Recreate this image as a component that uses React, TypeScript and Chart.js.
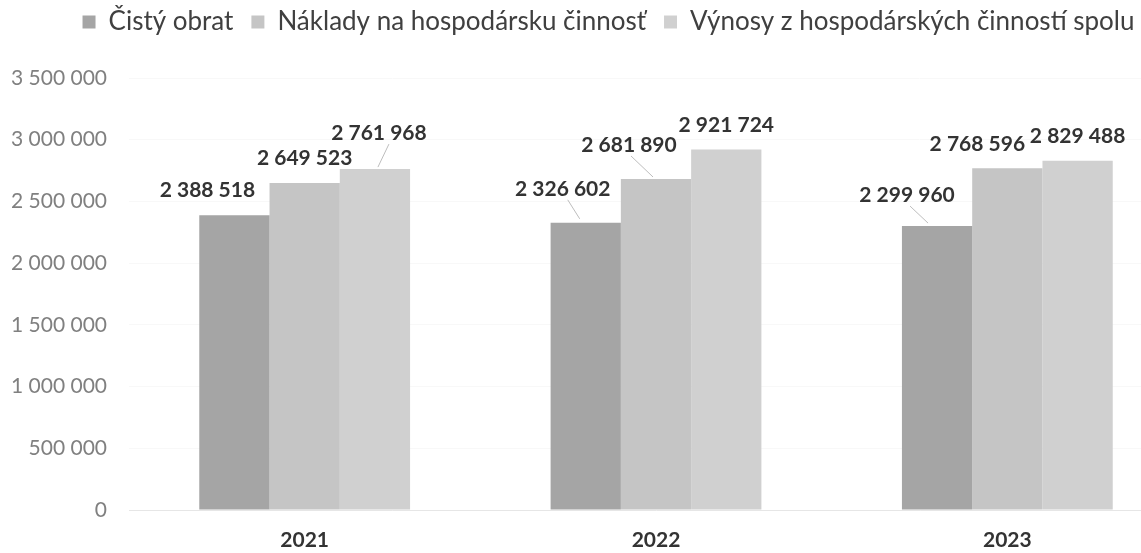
import React, { useEffect, useRef } from "react";
import { Chart, registerables } from "chart.js";

Chart.register(...registerables);

const categories = ["2021", "2022", "2023"];
const seriesNames = [
  "Čistý obrat",
  "Náklady na hospodársku činnosť",
  "Výnosy z hospodárských činností spolu",
];
const cistyObrat = [2388518, 2326602, 2299960];
const naklady = [2649523, 2681890, 2768596];
const vynosy = [2761968, 2921724, 2829488];
const yMax = 3500000;
const yStep = 500000;

const colors = ["#a5a5a5", "#c5c5c5", "#d0d0d0"];

// label offsets (px) relative to bar top centre, per dataset / category
const labelOffsets = [
  [[-27, -25], [-23, -34], [-30, -31]],
  [[0, -25], [-27, -34], [-30, -24]],
  [[4, -36], [0, -24], [0, -25]],
];
// leader lines: [dataset, category, startDx, startDy (from label centre), endDx, endDy (from bar top centre)]
const leaders = [
  [2, 0, 10, 11, 3, -2],
  [0, 1, 5, 11, -6, -4],
  [1, 1, 2, 11, -3, -2],
  [0, 2, 3, 11, -9, -3],
];

const fmt = (v: number) => String(Math.round(v)).replace(/\B(?=(\d{3})+(?!\d))/g, " ");

const CANVAS_W = 1218;
const PLOT_RIGHT = 1183;
const Y_AXIS_W = 129;
const PLOT_TOP = 78;
const X_AXIS_H = 43;
const LEGEND_DX = 17;
const LEGEND_TOP = -9;

const labelPlugin = {
  id: "valueLabels",
  afterLayout(chart: any) {
    const lg = chart.legend;
    if (lg) {
      const h = lg.bottom - lg.top;
      lg.left += LEGEND_DX;
      lg.right += LEGEND_DX;
      lg.top = LEGEND_TOP;
      lg.bottom = LEGEND_TOP + h;
    }
  },
  afterDatasetsDraw(chart: any) {
    const ctx = chart.ctx;
    ctx.save();
    ctx.strokeStyle = "#bdbdbd";
    ctx.lineWidth = 1;
    leaders.forEach(([d, c, sx, sy, ex, ey]) => {
      const el = chart.getDatasetMeta(d).data[c];
      const [dx, dy] = labelOffsets[d][c];
      ctx.beginPath();
      ctx.moveTo(el.x + dx + sx, el.y + dy + sy);
      ctx.lineTo(el.x + ex, el.y + ey);
      ctx.stroke();
    });
    ctx.font = "bold 21px Lato";
    ctx.fillStyle = "#333333";
    ctx.textAlign = "center";
    ctx.textBaseline = "middle";
    chart.data.datasets.forEach((ds: any, d: number) => {
      chart.getDatasetMeta(d).data.forEach((el: any, c: number) => {
        const [dx, dy] = labelOffsets[d][c];
        ctx.fillText(fmt(ds.data[c]), el.x + dx, el.y + dy);
      });
    });
    ctx.restore();
  },
};

export default function App() {
  const ref = useRef<HTMLCanvasElement>(null);
  useEffect(() => {
    if (!ref.current) return;
    const chart = new Chart(ref.current, {
      type: "bar",
      data: {
        labels: categories,
        datasets: [cistyObrat, naklady, vynosy].map((data, i) => ({
          label: seriesNames[i],
          data,
          backgroundColor: colors[i],
          borderWidth: 0,
          categoryPercentage: 0.6,
          barPercentage: 1.0,
        })),
      },
      options: {
        animation: false,
        responsive: true,
        maintainAspectRatio: false,
        layout: { padding: { left: 0, right: CANVAS_W - PLOT_RIGHT, top: 0, bottom: 0 } },
        plugins: {
          tooltip: { enabled: false },
          legend: {
            position: "top",
            labels: {
              boxWidth: 13,
              boxHeight: 13,
              padding: 18,
              color: "#404040",
              font: { family: "Lato", size: 26 },
            },
          },
        },
        scales: {
          x: {
            grid: { display: false, drawTicks: false },
            border: { display: true, color: "#e6e6e6" },
            ticks: {
              padding: 18,
              color: "#333333",
              font: { family: "Lato", size: 21, weight: "bold" },
            },
            afterFit: (s: any) => {
              s.height = X_AXIS_H;
            },
          },
          y: {
            min: 0,
            max: yMax,
            grid: { color: "#f8f8f8", drawTicks: false },
            border: { display: false },
            ticks: {
              stepSize: yStep,
              padding: 22,
              color: "#808080",
              font: { family: "Lato", size: 21 },
              callback: (v: any) => fmt(Number(v)),
            },
            afterFit: (s: any) => {
              s.width = Y_AXIS_W;
              s.paddingTop = PLOT_TOP;
            },
          },
        },
      },
      plugins: [labelPlugin],
    });
    return () => chart.destroy();
  }, []);
  return (
    <div
      style={{
        position: "fixed",
        left: 0,
        top: 0,
        width: 1141,
        height: 553,
        overflow: "hidden",
        background: "#ffffff",
      }}
    >
      <div style={{ position: "relative", width: CANVAS_W, height: 553 }}>
        <canvas ref={ref} />
      </div>
    </div>
  );
}
